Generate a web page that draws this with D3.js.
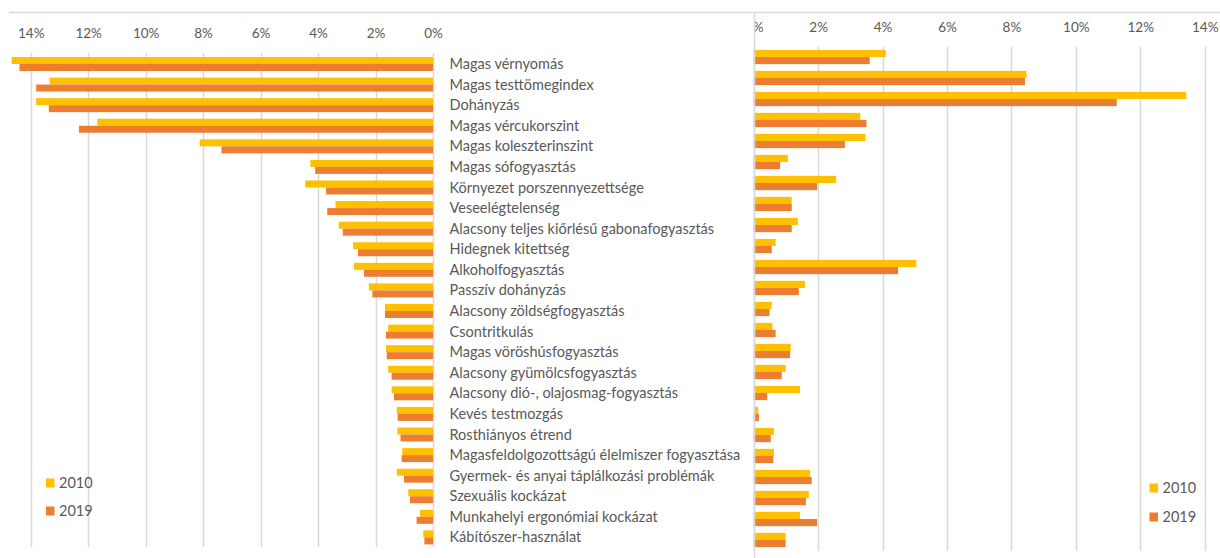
<!DOCTYPE html>
<html>
<head>
<meta charset="utf-8">
<script src="https://cdn.jsdelivr.net/npm/d3@7"></script>
<style>
  html, body { margin: 0; padding: 0; background: #fff; }
  svg { display: block; font-family: Lato, "Open Sans", sans-serif; }
</style>
</head>
<body>
<svg id="chart" width="1220" height="558"></svg>
<script>
const categories = [
  "Magas vérnyomás",
  "Magas testtömegindex",
  "Dohányzás",
  "Magas vércukorszint",
  "Magas koleszterinszint",
  "Magas sófogyasztás",
  "Környezet porszennyezettsége",
  "Veseelégtelenség",
  "Alacsony teljes kiőrlésű gabonafogyasztás",
  "Hidegnek kitettség",
  "Alkoholfogyasztás",
  "Passzív dohányzás",
  "Alacsony zöldségfogyasztás",
  "Csontritkulás",
  "Magas vöröshúsfogyasztás",
  "Alacsony gyümölcsfogyasztás",
  "Alacsony dió-, olajosmag-fogyasztás",
  "Kevés testmozgás",
  "Rosthiányos étrend",
  "Magasfeldolgozottságú élelmiszer fogyasztása",
  "Gyermek- és anyai táplálkozási problémák",
  "Szexuális kockázat",
  "Munkahelyi ergonómiai kockázat",
  "Kábítószer-használat"
];
const seriesNames = ["2010", "2019"];
// left panel (%)
const left2010 = [14.66, 13.34, 13.81, 11.68, 8.12, 4.27, 4.45, 3.39, 3.28, 2.78, 2.75, 2.23, 1.67, 1.56, 1.64, 1.56, 1.44, 1.26, 1.24, 1.07, 1.26, 0.86, 0.45, 0.34];
const left2019 = [14.39, 13.81, 13.37, 12.32, 7.36, 4.10, 3.72, 3.68, 3.14, 2.61, 2.40, 2.11, 1.67, 1.64, 1.61, 1.44, 1.36, 1.23, 1.13, 1.09, 1.01, 0.80, 0.57, 0.30];
// right panel (%)
const right2010 = [4.10, 8.47, 13.43, 3.31, 3.47, 1.06, 2.56, 1.18, 1.37, 0.68, 5.05, 1.59, 0.56, 0.58, 1.15, 0.99, 1.44, 0.14, 0.63, 0.63, 1.75, 1.71, 1.44, 0.99];
const right2019 = [3.60, 8.42, 11.27, 3.50, 2.83, 0.82, 1.97, 1.18, 1.18, 0.56, 4.48, 1.40, 0.49, 0.68, 1.13, 0.87, 0.42, 0.16, 0.53, 0.61, 1.80, 1.62, 1.97, 0.99];
const tickValues = [0, 2, 4, 6, 8, 10, 12, 14];

const colors = { "2010": "#FFC000", "2019": "#ED7D31" };
const gridColor = "#D9D9D9";
const textColor = "#595959";

const svg = d3.select("#chart");

// top border line
svg.append("line").attr("x1", 9).attr("x2", 1220).attr("y1", 12.5).attr("y2", 12.5)
  .attr("stroke", gridColor).attr("stroke-width", 1.3);

function panel(opts) {
  const g = svg.append("g");
  const x = d3.scaleLinear().domain([0, 14]).range(opts.xRange);
  const y = d3.scaleBand().domain(categories).range(opts.yRange).paddingInner(0.32).paddingOuter(0.16);
  const sub = d3.scaleBand().domain(seriesNames).range([0, y.bandwidth()]);

  // gridlines
  g.append("g").selectAll("line").data(tickValues).join("line")
    .attr("x1", d => Math.round(x(d)) + 0.5).attr("x2", d => Math.round(x(d)) + 0.5)
    .attr("y1", opts.gridTop).attr("y2", opts.gridBottom)
    .attr("stroke", gridColor).attr("stroke-width", 1.5);

  // tick labels
  const clipId = "clip" + opts.name;
  svg.append("clipPath").attr("id", clipId).append("rect")
    .attr("x", opts.clipX).attr("y", -30).attr("width", opts.clipW).attr("height", 60);
  const axis = d3.axisTop(x).tickValues(tickValues).tickFormat(d => d + "%").tickSize(0).tickPadding(0);
  const ag = g.append("g").attr("transform", `translate(0,${opts.tickY})`)
    .attr("clip-path", `url(#${clipId})`).call(axis);
  ag.select(".domain").remove();
  ag.selectAll("text").attr("fill", textColor).attr("font-size", 13.5)
    .attr("font-family", "Lato, 'Open Sans', sans-serif")
    .attr("dy", "0.35em").attr("y", 0);

  // bars
  const data = [];
  categories.forEach((c, i) => {
    data.push({ c, s: "2010", v: opts.v2010[i] });
    data.push({ c, s: "2019", v: opts.v2019[i] });
  });
  g.append("g").selectAll("rect").data(data).join("rect")
    .attr("x", d => Math.min(x(0), x(d.v)))
    .attr("width", d => Math.abs(x(d.v) - x(0)))
    .attr("y", d => y(d.c) + sub(d.s))
    .attr("height", sub.bandwidth())
    .attr("fill", d => colors[d.s]);

  // legend
  const lg = g.append("g");
  seriesNames.forEach((s, i) => {
    lg.append("rect").attr("x", opts.legX).attr("y", opts.legY[i] - 4.5)
      .attr("width", 8.5).attr("height", 9).attr("fill", colors[s]);
    lg.append("text").attr("x", opts.legX + 13).attr("y", opts.legY[i]).attr("dy", "0.35em")
      .attr("fill", textColor).attr("font-size", 14.5).text(s);
  });
  return { x, y };
}

const L = panel({
  name: "L", xRange: [433, 30.7], yRange: [53.7, 547.7],
  gridTop: 53, gridBottom: 547, tickY: 33, clipX: 0, clipW: 760,
  v2010: left2010, v2019: left2019, legX: 46, legY: [483, 511]
});

const R = panel({
  name: "R", xRange: [753.7, 1204.7], yRange: [46.5, 550.5],
  gridTop: 46.5, gridBottom: 551, tickY: 27, clipX: 754.5, clipW: 470,
  v2010: right2010, v2019: right2019, legX: 1149.5, legY: [488, 517]
});

// right panel vertical axis line
svg.append("line").attr("x1", 754.5).attr("x2", 754.5).attr("y1", 13).attr("y2", 558)
  .attr("stroke", gridColor).attr("stroke-width", 1.5);

// category labels (aligned with left panel rows)
const labels = svg.append("g").selectAll("text").data(categories).join("text")
  .attr("x", 449.5)
  .attr("y", d => L.y(d) + L.y.bandwidth() / 2)
  .attr("dy", "0.35em")
  .attr("fill", textColor)
  .attr("font-size", 13)
  .text(d => d);
// fit font size so the longest label spans like the reference (~292px)
let maxW = 0;
labels.each(function () { maxW = Math.max(maxW, this.getComputedTextLength()); });
const fs = Math.min(15, 13 * 291 / maxW);
labels.attr("font-size", fs);
</script>
</body>
</html>
